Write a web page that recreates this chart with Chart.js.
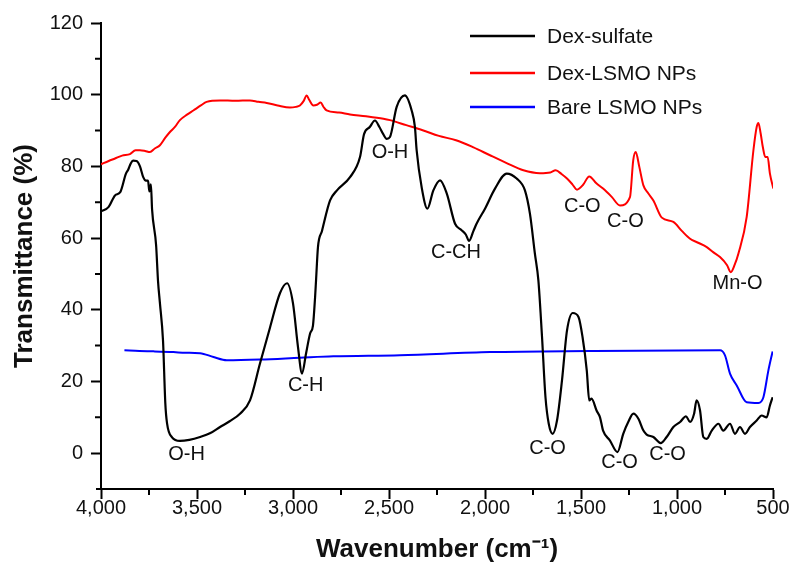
<!DOCTYPE html>
<html>
<head>
<meta charset="utf-8">
<title>FTIR spectra</title>
<script src="https://cdn.jsdelivr.net/npm/chart.js@4.4.0/dist/chart.umd.min.js"></script>
<style>
  body { margin: 0; background: #fff; }
</style>
</head>
<body>
<canvas id="ftirChart" width="791" height="562"></canvas>
<script>
// Spectra: wavenumber (cm-1) and transmittance (%)
const dexSulfateWave = [4000, 3960, 3927, 3900, 3870, 3859, 3845, 3833, 3815, 3797, 3780, 3766, 3755, 3748, 3740, 3734, 3713, 3703, 3693, 3677, 3665, 3656, 3630, 3589, 3540, 3484, 3430, 3380, 3330, 3276, 3224, 3172, 3120, 3068, 3031, 3000, 2974, 2953, 2932, 2911, 2896, 2885, 2880, 2870, 2849, 2807, 2771, 2703, 2651, 2630, 2600, 2573, 2550, 2530, 2512, 2495, 2460, 2417, 2382, 2365, 2356, 2330, 2300, 2269, 2234, 2199, 2156, 2122, 2100, 2083, 2060, 2044, 2000, 1948, 1887, 1835, 1792, 1766, 1740, 1722, 1703, 1685, 1668, 1648, 1625, 1599, 1573, 1543, 1513, 1492, 1470, 1457, 1445, 1419, 1401, 1385, 1349, 1310, 1280, 1254, 1227, 1201, 1175, 1158, 1123, 1085, 1054, 1019, 984, 953, 932, 911, 898, 880, 863, 845, 819, 784, 759, 724, 698, 672, 646, 620, 585, 559, 533, 516, 502];
const dexSulfateT = [67.4, 68.7, 71.9, 72.8, 78, 79, 80.8, 81.6, 81.5, 80, 77, 76, 76, 73, 75, 68, 58, 48, 41.8, 31.4, 13.9, 8.3, 4.4, 3.4, 3.7, 4.5, 5.6, 7.3, 8.9, 11, 14.7, 25, 35, 44.6, 47.4, 41.8, 29.6, 22.2, 27.8, 33.4, 35.6, 43.5, 48.2, 57.5, 62, 70.5, 73.3, 77, 82.6, 89, 91, 92.8, 91, 89, 87.7, 88.2, 96.6, 99.8, 95.6, 91, 84.5, 74.2, 68.2, 73.3, 76.1, 72.4, 64, 62.2, 61, 59.2, 62, 64, 68.2, 73.8, 78, 76.6, 73.3, 66.8, 55.6, 48.2, 32.4, 15.6, 8.2, 5.4, 9.1, 20.3, 34.2, 39.1, 38, 32.4, 23.1, 14.7, 15.2, 11.9, 10, 6.3, 3.5, 0.3, 5.4, 8.7, 11, 9.6, 6.3, 5.2, 4.5, 2.8, 4.5, 7.3, 8.7, 10.3, 8.7, 11, 14.7, 11.9, 4.5, 4, 6.3, 8.2, 6.3, 8.2, 5.4, 7.3, 5.4, 7.3, 9.1, 10.5, 10, 13.3, 15.6];

const dexLsmoWave = [4000, 3960, 3927, 3890, 3849, 3820, 3797, 3770, 3745, 3720, 3693, 3665, 3641, 3615, 3589, 3550, 3519, 3480, 3450, 3380, 3300, 3224, 3180, 3137, 3080, 3016, 2985, 2964, 2945, 2929, 2915, 2894, 2875, 2856, 2840, 2825, 2760, 2703, 2620, 2529, 2495, 2410, 2325, 2240, 2151, 2060, 1974, 1890, 1800, 1714, 1660, 1632, 1600, 1573, 1545, 1521, 1490, 1457, 1420, 1385, 1340, 1297, 1245, 1228, 1215, 1196, 1175, 1150, 1123, 1079, 1019, 975, 932, 890, 845, 810, 776, 740, 720, 700, 680, 637, 602, 585, 576, 564, 553, 540, 528, 516, 498];
const dexLsmoT = [80.6, 81.5, 82.2, 83, 83.4, 84.5, 84.5, 84.3, 84, 85, 85.9, 88, 89.6, 91, 92.9, 94.5, 95.6, 97, 98, 98.4, 98.3, 98.4, 98, 97.7, 97, 96.4, 96.6, 97, 98.2, 99.8, 98.5, 97, 97.2, 97.8, 96.5, 95.6, 95, 94.5, 94, 93.3, 92.9, 91.5, 90.1, 88.5, 87.3, 85.3, 83.1, 81, 78.9, 78.1, 78.3, 78.9, 77.8, 76.6, 75, 73.5, 74.8, 77.2, 75.3, 73.8, 71.5, 69.1, 71.4, 81.7, 84, 79.8, 74.7, 72.5, 70.5, 65.7, 64.5, 62, 59.8, 58.7, 57.5, 56, 54.7, 52.5, 50.5, 52.5, 55.7, 65.9, 84.5, 91, 92.1, 89.1, 85.4, 82.6, 82.6, 78, 73.8];

const bareLsmoWave = [3878, 3800, 3727, 3623, 3560, 3484, 3414, 3345, 3172, 2964, 2790, 2443, 1974, 1453, 776, 750, 724, 689, 637, 576, 550, 524, 502];
const bareLsmoT = [28.7, 28.5, 28.4, 28.2, 28, 27.9, 26.8, 25.9, 26.1, 26.6, 27, 27.3, 28.2, 28.5, 28.7, 27.3, 22.2, 18.9, 14.2, 14, 15.6, 23.1, 28.4];

const seriesNames = ['Dex-sulfate', 'Dex-LSMO NPs', 'Bare LSMO NPs'];
const seriesColors = ['#000000', '#ff0000', '#0000ff'];

// band assignments written on the plot, anchored at wavenumber / transmittance
const peakText = ['O-H', 'C-H', 'O-H', 'C-CH', 'C-O', 'C-O', 'Mn-O', 'C-O', 'C-O', 'C-O'];
const peakWave = [3554, 2934, 2495, 2151, 1493, 1269, 685, 1674, 1299, 1049];
const peakT = [-0.4, 18.8, 84, 55.9, 68.8, 64.7, 47.3, 1.2, -2.6, -0.3];

const FONT = "'Liberation Sans', Arial, sans-serif";

const toPoints = (xs, ys) => xs.map((x, i) => ({ x: x, y: ys[i] }));

// small ticks between the labelled ones
const minorTicks = {
    id: 'minorTicks',
    afterDraw(chart) {
        const { ctx, chartArea, scales: { x, y } } = chart;
        ctx.save();
        ctx.strokeStyle = '#000';
        ctx.lineWidth = 2;
        ctx.beginPath();
        for (let v = 3750; v > 500; v -= 500) {
            const px = x.getPixelForValue(v);
            ctx.moveTo(px, chartArea.bottom);
            ctx.lineTo(px, chartArea.bottom + 6);
        }
        for (let v = 10; v < 120; v += 20) {
            const py = y.getPixelForValue(v);
            ctx.moveTo(chartArea.left, py);
            ctx.lineTo(chartArea.left - 6, py);
        }
        // x axis line runs a little past the y axis
        ctx.moveTo(chartArea.left - 5, chartArea.bottom);
        ctx.lineTo(chartArea.left, chartArea.bottom);
        ctx.stroke();
        ctx.restore();
    }
};

const peakLabels = {
    id: 'peakLabels',
    afterDatasetsDraw(chart) {
        const { ctx, scales: { x, y } } = chart;
        ctx.save();
        ctx.fillStyle = '#111';
        ctx.font = '20px ' + FONT;
        ctx.textAlign = 'center';
        ctx.textBaseline = 'middle';
        peakText.forEach((t, i) => {
            ctx.fillText(t, x.getPixelForValue(peakWave[i]), y.getPixelForValue(peakT[i]));
        });
        ctx.restore();
    }
};

// legend sits inside the plot, top right
const insideLegend = {
    id: 'insideLegend',
    afterDraw(chart) {
        const { ctx, chartArea } = chart;
        const x0 = chartArea.left + 369;
        const rows = [36, 73, 107];
        ctx.save();
        ctx.font = '21px ' + FONT;
        ctx.textBaseline = 'middle';
        ctx.textAlign = 'left';
        chart.data.datasets.forEach((ds, i) => {
            ctx.strokeStyle = ds.borderColor;
            ctx.lineWidth = 2.5;
            ctx.beginPath();
            ctx.moveTo(x0, rows[i]);
            ctx.lineTo(x0 + 65, rows[i]);
            ctx.stroke();
            ctx.fillStyle = '#111';
            ctx.fillText(ds.label, x0 + 77, rows[i] + 1);
        });
        ctx.restore();
    }
};

const ctx = document.getElementById('ftirChart').getContext('2d');

const ftirChart = new Chart(ctx, {
    type: 'line',
    data: {
        datasets: [
            {
                label: seriesNames[0],
                data: toPoints(dexSulfateWave, dexSulfateT),
                borderColor: seriesColors[0],
                borderWidth: 2.2
            },
            {
                label: seriesNames[1],
                data: toPoints(dexLsmoWave, dexLsmoT),
                borderColor: seriesColors[1],
                borderWidth: 2
            },
            {
                label: seriesNames[2],
                data: toPoints(bareLsmoWave, bareLsmoT),
                borderColor: seriesColors[2],
                borderWidth: 2
            }
        ]
    },
    options: {
        responsive: false,
        animation: false,
        elements: {
            point: { radius: 0 },
            line: { cubicInterpolationMode: 'monotone', fill: false, borderJoinStyle: 'round' }
        },
        layout: {
            padding: { top: 23, right: 18, left: 0, bottom: 0 }
        },
        plugins: {
            legend: { display: false },
            tooltip: { enabled: false }
        },
        scales: {
            x: {
                type: 'linear',
                reverse: true,
                min: 500,
                max: 4000,
                afterFit: (scale) => { scale.height = 73; },
                border: { color: '#000', width: 2 },
                grid: {
                    drawOnChartArea: false,
                    tickLength: 10,
                    tickColor: '#000',
                    tickWidth: 2
                },
                ticks: {
                    stepSize: 500,
                    color: '#111',
                    padding: -3,
                    maxRotation: 0,
                    font: { family: FONT, size: 20 },
                    callback: (v) => v.toLocaleString('en-US')
                },
                title: {
                    display: true,
                    text: 'Wavenumber (cm\u207B\u00B9)',
                    color: '#111',
                    padding: { top: 0, bottom: -1 },
                    font: { family: FONT, size: 26, weight: 'bold', lineHeight: 1 }
                }
            },
            y: {
                min: -10,
                max: 120,
                afterFit: (scale) => { scale.width = 101; },
                afterBuildTicks: (scale) => {
                    scale.ticks = scale.ticks.filter(t => t.value >= 0);
                },
                border: { color: '#000', width: 2 },
                grid: {
                    drawOnChartArea: false,
                    tickLength: 10,
                    tickColor: '#000',
                    tickWidth: 2
                },
                ticks: {
                    stepSize: 20,
                    color: '#111',
                    padding: 8,
                    font: { family: FONT, size: 20 }
                },
                title: {
                    display: true,
                    text: 'Transmittance (%)',
                    color: '#111',
                    padding: { top: 12, bottom: 0 },
                    font: { family: FONT, size: 26, weight: 'bold', lineHeight: 1 }
                }
            }
        }
    },
    plugins: [minorTicks, peakLabels, insideLegend]
});
</script>
</body>
</html>
